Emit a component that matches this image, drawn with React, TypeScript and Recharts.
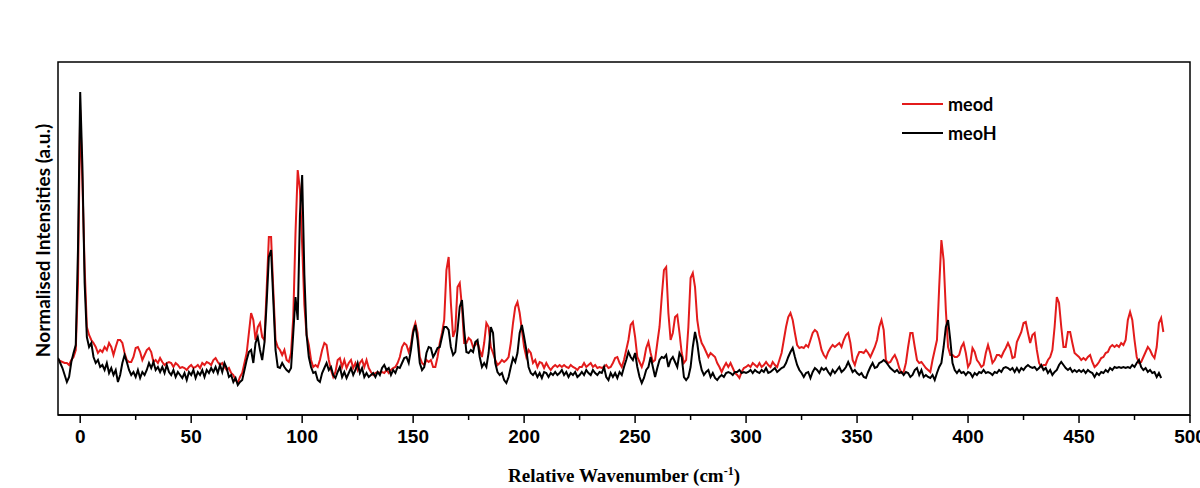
import React from 'react';
import { LineChart, Line, XAxis, YAxis, Legend, ReferenceArea } from 'recharts';

// Raman spectra, one value per 1 cm-1 starting at -10 cm-1 (a.u.)
const START_WAVENUMBER = -10;

const meod = [
  55, 54, 53, 52, 52, 50, 55, 58, 65, 132, // -10
  305, 232, 148, 88, 80, 75, 72, 68, 62, 65, // 0
  63, 68, 65, 72, 68, 60, 68, 75, 75, 72,
  62, 55, 53, 53, 58, 67, 68, 63, 55, 60,
  65, 67, 63, 53, 55, 52, 57, 53, 50, 52,
  53, 52, 48, 52, 50, 47, 48, 47, 45, 48, // 40
  50, 47, 48, 50, 47, 52, 50, 53, 52, 50,
  55, 57, 53, 50, 52, 48, 45, 47, 42, 40,
  35, 32, 38, 42, 52, 62, 82, 102, 95, 75,
  88, 92, 78, 75, 125, 178, 178, 125, 75, 68,
  65, 60, 65, 55, 53, 62, 98, 182, 245, 225, // 90
  170, 110, 80, 70, 55, 48, 50, 48, 55, 65,
  72, 70, 55, 45, 38, 43, 55, 57, 48, 55,
  47, 52, 55, 47, 52, 45, 52, 55, 48, 55,
  47, 43, 40, 42, 43, 42, 43, 42, 45, 42,
  45, 47, 48, 52, 58, 68, 72, 70, 63, 70, // 140
  85, 92, 82, 58, 52, 50, 55, 53, 55, 48,
  48, 58, 72, 82, 95, 145, 158, 112, 78, 85,
  128, 132, 108, 72, 72, 77, 75, 68, 70, 73,
  65, 58, 72, 92, 88, 68, 62, 55, 50, 52,
  55, 53, 55, 58, 72, 92, 108, 113, 102, 85, // 190
  68, 58, 65, 62, 52, 55, 48, 53, 52, 47,
  52, 48, 45, 48, 50, 48, 50, 48, 50, 48,
  47, 50, 48, 47, 45, 48, 48, 52, 48, 50,
  52, 48, 50, 47, 48, 47, 48, 50, 47, 48,
  52, 57, 58, 52, 48, 55, 65, 75, 90, 93, // 240
  78, 58, 53, 48, 55, 67, 73, 62, 53, 55,
  72, 88, 118, 145, 148, 102, 75, 82, 98, 100,
  82, 62, 52, 55, 88, 137, 142, 128, 95, 80,
  72, 68, 63, 58, 62, 60, 58, 52, 48, 43,
  48, 52, 48, 52, 47, 42, 40, 37, 43, 47, // 290
  48, 50, 48, 52, 50, 48, 52, 48, 50, 53,
  50, 48, 53, 50, 48, 55, 62, 75, 88, 98,
  102, 95, 82, 70, 67, 68, 67, 70, 68, 75,
  82, 85, 83, 75, 65, 60, 57, 63, 67, 70,
  68, 70, 72, 68, 75, 80, 82, 72, 55, 50, // 340
  58, 63, 63, 62, 65, 62, 58, 63, 68, 75,
  88, 95, 85, 55, 52, 53, 57, 60, 55, 47,
  42, 43, 52, 68, 82, 82, 68, 55, 52, 53,
  50, 47, 45, 43, 55, 65, 75, 128, 175, 155,
  105, 68, 60, 60, 58, 58, 60, 68, 72, 62, // 390
  48, 52, 67, 63, 55, 52, 48, 50, 62, 70,
  62, 52, 55, 60, 60, 58, 63, 67, 72, 67,
  57, 58, 73, 78, 83, 92, 93, 82, 72, 80,
  82, 65, 52, 48, 50, 50, 55, 58, 65, 88,
  118, 112, 88, 68, 68, 83, 83, 72, 62, 60, // 440
  58, 55, 57, 55, 58, 60, 53, 48, 50, 53,
  57, 58, 62, 63, 68, 70, 68, 70, 68, 72,
  70, 75, 95, 103, 95, 75, 58, 52, 53, 58,
  63, 68, 65, 60, 57, 68, 92, 97, 83,
];

const meoH = [
  57, 52, 47, 40, 33, 38, 53, 62, 70, 165, // -10
  323, 248, 132, 78, 68, 72, 58, 52, 55, 48, // 0
  50, 45, 52, 42, 47, 40, 45, 33, 40, 52,
  60, 53, 45, 40, 43, 38, 45, 37, 43, 40,
  45, 52, 47, 53, 45, 48, 43, 48, 42, 50,
  43, 40, 45, 38, 43, 40, 37, 42, 35, 43, // 40
  40, 45, 37, 43, 40, 45, 38, 45, 42, 47,
  43, 48, 42, 50, 43, 52, 47, 38, 40, 33,
  37, 30, 33, 35, 45, 55, 63, 65, 52, 72,
  78, 65, 55, 72, 112, 158, 165, 115, 65, 48,
  47, 52, 48, 45, 43, 47, 82, 118, 95, 200, // 90
  240, 140, 80, 58, 48, 42, 43, 35, 33, 42,
  47, 52, 45, 48, 40, 37, 43, 48, 38, 43,
  37, 42, 47, 40, 45, 52, 42, 47, 38, 42,
  38, 40, 42, 38, 43, 40, 47, 50, 45, 47,
  40, 45, 42, 48, 47, 52, 57, 58, 52, 65, // 140
  82, 90, 75, 52, 45, 48, 62, 68, 67, 58,
  62, 67, 68, 78, 88, 88, 85, 68, 60, 63,
  85, 108, 115, 85, 63, 62, 65, 63, 73, 75,
  58, 48, 52, 48, 62, 88, 82, 52, 43, 40,
  42, 35, 32, 38, 48, 57, 53, 62, 82, 90, // 190
  78, 65, 48, 42, 40, 43, 38, 42, 37, 43,
  42, 38, 42, 40, 43, 40, 42, 45, 40, 43,
  38, 42, 40, 43, 38, 40, 43, 40, 45, 42,
  40, 45, 42, 40, 43, 42, 48, 38, 35, 42,
  38, 42, 37, 43, 40, 48, 55, 63, 58, 55, // 240
  62, 48, 38, 32, 37, 45, 48, 58, 48, 38,
  47, 55, 58, 57, 60, 48, 55, 58, 53, 48,
  62, 58, 38, 35, 38, 48, 68, 83, 72, 55,
  45, 40, 43, 45, 38, 42, 37, 35, 38, 40,
  38, 42, 43, 42, 40, 43, 43, 45, 42, 43, // 290
  42, 43, 45, 42, 45, 43, 42, 45, 43, 47,
  42, 43, 45, 47, 43, 45, 47, 48, 52, 58,
  63, 67, 58, 50, 45, 42, 38, 42, 43, 37,
  43, 47, 45, 42, 47, 45, 47, 43, 40, 45,
  42, 45, 48, 43, 45, 48, 53, 48, 43, 45, // 340
  42, 40, 42, 38, 37, 43, 48, 52, 47, 48,
  52, 53, 55, 53, 50, 47, 45, 43, 45, 42,
  43, 40, 43, 42, 38, 40, 45, 47, 40, 45,
  38, 40, 38, 37, 40, 35, 42, 48, 52, 68,
  88, 95, 75, 52, 45, 42, 45, 42, 43, 40, // 390
  43, 42, 38, 42, 40, 43, 42, 45, 42, 43,
  42, 40, 43, 42, 45, 43, 47, 48, 47, 45,
  47, 43, 47, 43, 47, 45, 48, 50, 48, 47,
  48, 45, 47, 50, 45, 47, 42, 45, 40, 43,
  45, 50, 53, 50, 47, 45, 47, 43, 45, 43, // 440
  45, 43, 45, 42, 45, 43, 42, 38, 42, 40,
  43, 42, 45, 43, 47, 45, 48, 47, 48, 47,
  48, 47, 48, 47, 50, 48, 52, 55, 48, 45,
  47, 43, 45, 42, 43, 38, 42, 37, null,
];

const seriesOrder = ['meod', 'meoH'];

const xTicks = [0, 25, 50, 75, 100, 125, 150, 175, 200, 225, 250, 275, 300, 325, 350, 375, 400, 425, 450, 475, 500];

const data = meod.map((v, i) => ({ x: START_WAVENUMBER + i, meod: v, meoH: meoH[i] }));

const XTick = (props: any) => {
  const { x, y, payload } = props;
  const major = payload.value % 50 === 0;
  return (
    <g>
      <line x1={x} x2={x} y1={y} y2={y + (major ? 8 : 5)} stroke="#000" strokeWidth={1.5} />
      {major && (
        <text x={x} y={y + 28} textAnchor="middle" fontFamily="'Liberation Sans', Arial, sans-serif" fontWeight="bold" fontSize={19} fill="#000">
          {payload.value}
        </text>
      )}
    </g>
  );
};

const XTitle = (props: any) => {
  const { viewBox } = props;
  return (
    <text x={viewBox.x + viewBox.width / 2} y={viewBox.y + 67} textAnchor="middle" fontFamily="'Liberation Serif', 'Times New Roman', serif" fontWeight="bold" fontSize={19} fill="#000">
      Relative Wavenumber (cm<tspan dy={-7} fontSize={12}>-1</tspan><tspan dy={7}>)</tspan>
    </text>
  );
};

const YTitle = (props: any) => {
  const { viewBox } = props;
  const cx = 50;
  const cy = viewBox.y + viewBox.height / 2 + 2;
  return (
    <text x={cx} y={cy} transform={`rotate(-90 ${cx} ${cy})`} textAnchor="middle" fontFamily="Lato, sans-serif" fontWeight="bold" fontSize={19} fill="#000">
      Normalised Intensities (a.u.)
    </text>
  );
};

const renderLegend = (props: any) => {
  const items = [...props.payload].sort((a: any, b: any) => seriesOrder.indexOf(a.value) - seriesOrder.indexOf(b.value));
  return (
    <div>
      {items.map((entry: any) => (
        <div key={entry.value} style={{ display: 'flex', alignItems: 'center', height: 29 }}>
          <span style={{ width: 41, height: 0, borderTop: `2px solid ${entry.color}`, marginRight: 5 }} />
          <span style={{ fontFamily: 'Lato, sans-serif', fontWeight: 'bold', fontSize: 18, color: '#000' }}>{entry.value}</span>
        </div>
      ))}
    </div>
  );
};

export default function App() {
  return (
    <div style={{ position: 'absolute', left: 0, top: 0, width: 1200, height: 488, background: '#fff' }}>
      <LineChart width={1200} height={488} data={data} margin={{ top: 62, right: 10, bottom: 0, left: 0 }}>
        <XAxis
          dataKey="x"
          type="number"
          domain={[-10, 500]}
          ticks={xTicks}
          interval={0}
          tickLine={false}
          tickSize={0}
          tickMargin={0}
          tick={<XTick />}
          axisLine={{ stroke: '#000', strokeWidth: 1.5 }}
          height={73}
          allowDataOverflow
          label={<XTitle />}
        />
        <YAxis type="number" domain={[0, 353]} tick={false} tickLine={false} axisLine={false} width={58} allowDataOverflow label={<YTitle />} />
        <ReferenceArea x1={-10} x2={500} y1={0} y2={353} fill="none" stroke="#000" strokeWidth={1.5} />
        <Legend
          layout="horizontal"
          verticalAlign="middle"
          align="center"
          content={renderLegend}
          wrapperStyle={{ position: 'absolute', left: 902, top: 89, width: 'auto', height: 'auto' }}
        />
        <Line name="meod" dataKey="meod" type="linear" stroke="#e31b1b" strokeWidth={2} dot={false} activeDot={false} isAnimationActive={false} />
        <Line name="meoH" dataKey="meoH" type="linear" stroke="#000" strokeWidth={2} dot={false} activeDot={false} isAnimationActive={false} />
      </LineChart>
    </div>
  );
}
